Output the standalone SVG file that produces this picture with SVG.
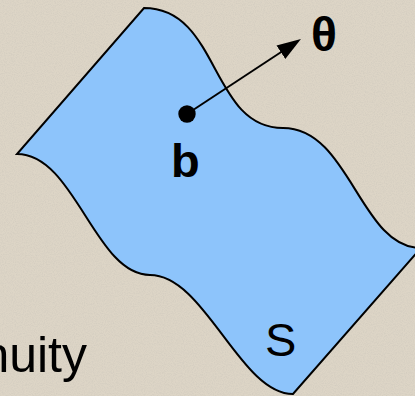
<svg xmlns="http://www.w3.org/2000/svg" width="415" height="396" viewBox="0 0 415 396">
  <defs>
    <filter id="grain" x="0" y="0" width="100%" height="100%">
      <feTurbulence type="fractalNoise" baseFrequency="0.9" numOctaves="2" seed="3" result="n"/>
      <feColorMatrix in="n" type="matrix" values="0 0 0 0 0.55  0 0 0 0 0.52  0 0 0 0 0.47  0 0 0 -1.6 1.0" result="m"/>
      <feComposite in="m" in2="SourceGraphic" operator="in"/>
    </filter>
    <marker id="ah" markerWidth="24" markerHeight="16" refX="14" refY="8" orient="auto" markerUnits="userSpaceOnUse">
      <path d="M0,0 L24,8 L0,16 z" fill="#000"/>
    </marker>
  </defs>
  <style>
    .bold { font-family: "Liberation Sans", Arial, sans-serif; font-weight: bold; fill: #000; }
    .reg { font-family: "Liberation Sans", Arial, sans-serif; fill: #000; }
    .surf { fill: #8dc4fb; stroke: #000; stroke-width: 2; stroke-linejoin: miter; }
  </style>
  <rect width="415" height="396" fill="#ddd5c6"/>
  <rect width="415" height="396" fill="#ddd5c6" filter="url(#grain)" opacity="0.45"/>

  <g id="surface-S">
    <path class="surf" d="M144,8 C220,8 210,128 283,128 C350,128 360,248 421,248 L293,394 C240,394 205,275 150,275 C95,275 75,154 17,154 Z"/>
    <text class="reg" x="265" y="356" font-size="47">S</text>
  </g>

  <g id="point-b">
    <circle cx="187" cy="114" r="8.7" fill="#000"/>
    <text class="bold" x="171" y="176.5" font-size="47">b</text>
  </g>

  <g id="label-theta">
    <text class="bold" x="311" y="51" font-size="48">θ</text>
  </g>

  <g id="connectors">
    <line x1="187" y1="114" x2="292.6" y2="44.5" stroke="#000" stroke-width="2" marker-end="url(#ah)"/>
  </g>

  <g id="caption">
    <text class="reg" x="87" y="372" font-size="50" text-anchor="end">nuity</text>
  </g>
</svg>
